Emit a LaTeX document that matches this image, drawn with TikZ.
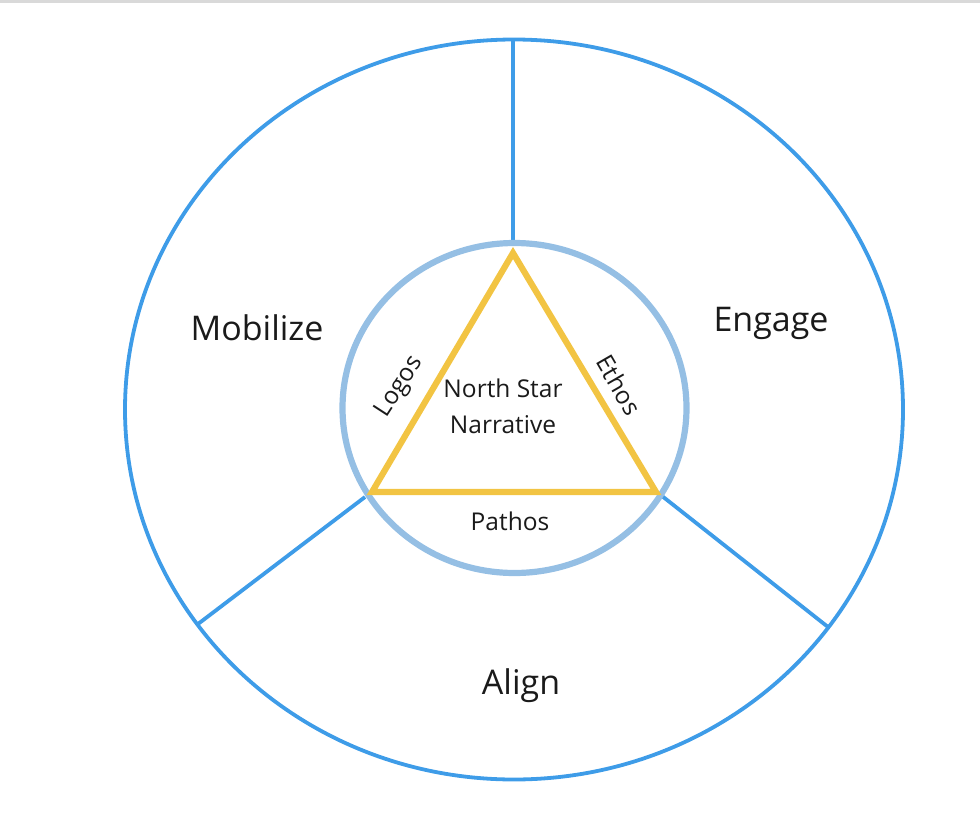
\documentclass[tikz,border=0pt]{standalone}
\usepackage{fontspec}
\setmainfont{Open Sans}
\definecolor{outerblue}{HTML}{3E9CE8}
\definecolor{innerblue}{HTML}{95BFE4}
\definecolor{triyellow}{HTML}{F2C443}
\definecolor{topgray}{HTML}{D9D9D9}
\definecolor{txt}{HTML}{1A1A1A}
\begin{document}
\begin{tikzpicture}[x=1pt,y=-1pt,
  outerline/.style={draw=outerblue,line width=3.8pt},
  innerline/.style={draw=innerblue,line width=6.2pt},
  triline/.style={draw=triyellow,line width=6.2pt,line join=miter},
  biglabel/.style={text=txt,font=\fontsize{34}{40}\selectfont},
  smalllabel/.style={text=txt,font=\fontsize{24.5}{36}\selectfont,align=center,inner sep=0pt}]
\useasboundingbox (0,0) rectangle (980,816);
\draw[topgray,line width=3pt] (0,2) -- (980,2);
% coordinates
\coordinate (c) at (514,409.5);
\coordinate (otop) at (513,40);
\coordinate (itop) at (513,243);
\coordinate (oll) at (198,624);
\coordinate (ill) at (365,497);
\coordinate (olr) at (828,627);
\coordinate (ilr) at (662,496);
\coordinate (ta) at (513,253);
\coordinate (tb) at (372,492);
\coordinate (tc) at (656,492);
% outer circle and dividers
\draw[outerline] (c) ellipse [x radius=389, y radius=370];
\draw[outerline] (otop) -- (itop);
\draw[outerline] (oll) -- (ill);
\draw[outerline] (olr) -- (ilr);
% inner circle
\draw[innerline] (514.5,408) ellipse [x radius=172, y radius=165];
% triangle
\draw[triline] (ta) -- (tb) -- (tc) -- cycle;
% labels
\node[biglabel] (mob) at (257,328) {Mobilize};
\node[biglabel] (eng) at (771,323) {Engage};
\node[biglabel] (ali) at (521,686) {Align};
\node[smalllabel] (nsn) at (503,406) {North Star\\Narrative};
\node[smalllabel] (pat) at (510,521) {Pathos};
\node[smalllabel,rotate=57] (log) at (400,387) {Logos};
\node[smalllabel,rotate=-60] (eth) at (619,385) {Ethos};
\end{tikzpicture}
\end{document}
